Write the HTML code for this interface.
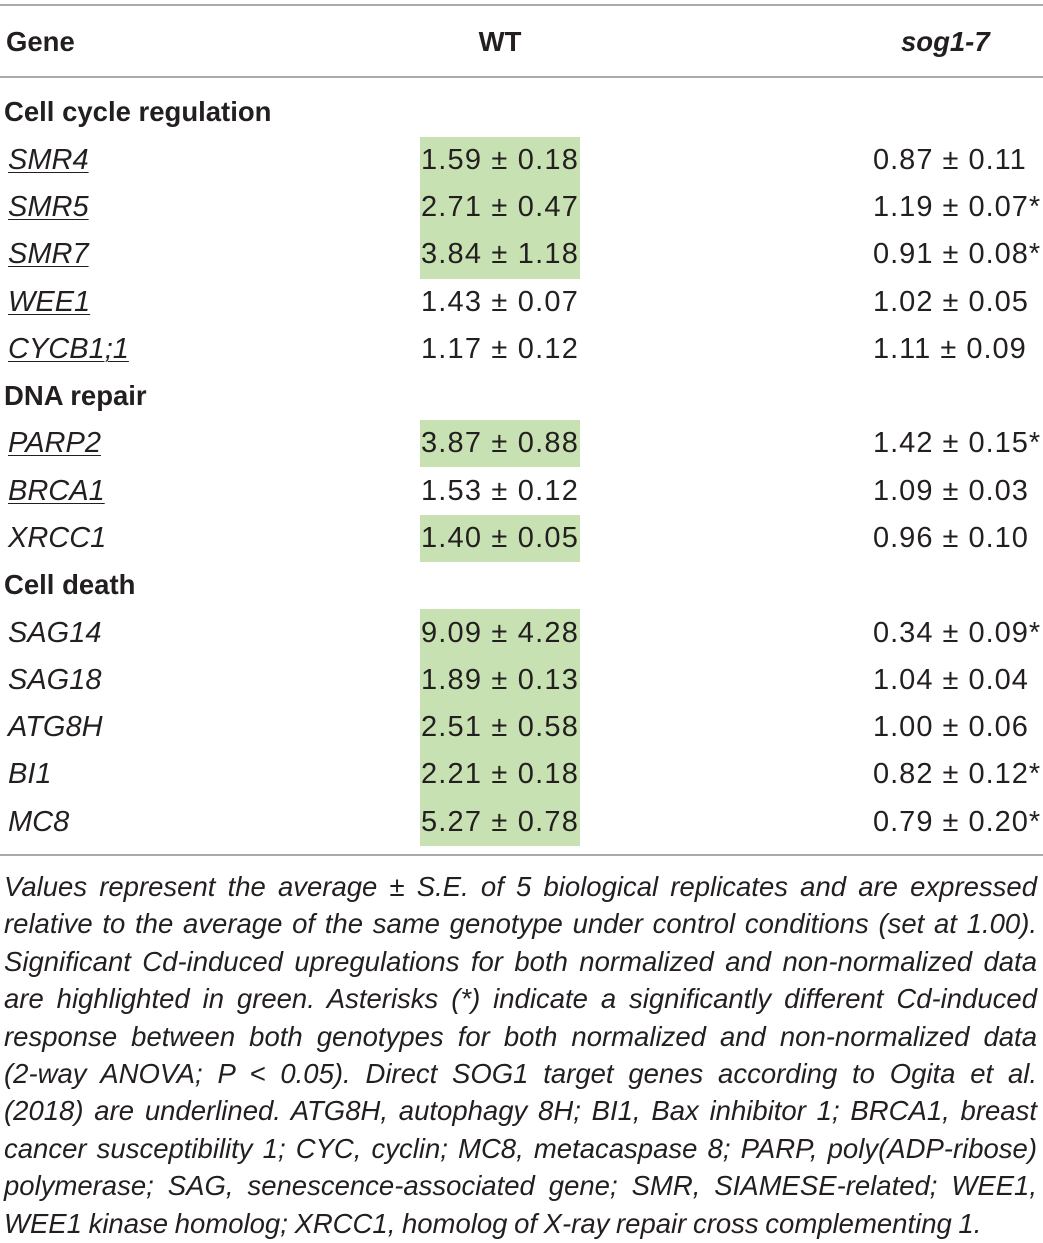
<!DOCTYPE html>
<html><head><meta charset="utf-8"><style>
body{margin:0;width:1043px;height:1243px;background:#fff;font-family:"Liberation Sans",Arial,sans-serif;color:#231f20;position:relative;overflow:hidden}
.hl{position:absolute;left:0;width:1043px;height:2px;background:#a7a9ac}
.t{position:absolute;font-size:29px;line-height:30px;white-space:nowrap}
.b{font-weight:bold;font-size:27.5px}
.i{font-style:italic}
.u{text-decoration:underline;text-underline-offset:3px;text-decoration-thickness:1px}
.g{position:absolute;left:420px;width:160px;background:#c7e1b2}
.wt{left:405px;width:190px;text-align:center;letter-spacing:1.2px}
.sg{left:873px;letter-spacing:1px}
.cap{position:absolute;left:4px;top:868px;width:1033px;font-size:27.5px;line-height:37.4px;font-style:italic;color:#231f20;word-spacing:-1px}
.cap div{text-align:justify;text-align-last:justify;white-space:nowrap;height:37.4px}
.cap div.last{text-align-last:left}
</style></head><body>
<div class="hl" style="top:4px"></div>
<div class="hl" style="top:76px"></div>
<div class="hl" style="top:854px"></div>

<div class="g" style="top:137px;height:142px"></div>
<div class="g" style="top:420px;height:47px"></div>
<div class="g" style="top:515px;height:47px"></div>
<div class="g" style="top:609px;height:237px"></div>

<div class="t b" style="left:6px;top:27px">Gene</div>
<div class="t b wt" style="top:27px;letter-spacing:0">WT</div>
<div class="t b i" style="left:901px;top:27px">sog1-7</div>

<div class="t b" style="left:4px;top:97px">Cell cycle regulation</div>
<div class="t i u" style="left:8px;top:145px">SMR4</div>
<div class="t wt" style="top:145px">1.59 ± 0.18</div>
<div class="t sg" style="top:145px">0.87 ± 0.11</div>
<div class="t i u" style="left:8px;top:192px">SMR5</div>
<div class="t wt" style="top:192px">2.71 ± 0.47</div>
<div class="t sg" style="top:192px">1.19 ± 0.07*</div>
<div class="t i u" style="left:8px;top:239px">SMR7</div>
<div class="t wt" style="top:239px">3.84 ± 1.18</div>
<div class="t sg" style="top:239px">0.91 ± 0.08*</div>
<div class="t i u" style="left:8px;top:287px">WEE1</div>
<div class="t wt" style="top:287px">1.43 ± 0.07</div>
<div class="t sg" style="top:287px">1.02 ± 0.05</div>
<div class="t i u" style="left:8px;top:334px">CYCB1;1</div>
<div class="t wt" style="top:334px">1.17 ± 0.12</div>
<div class="t sg" style="top:334px">1.11 ± 0.09</div>

<div class="t b" style="left:4px;top:381px">DNA repair</div>
<div class="t i u" style="left:8px;top:428px">PARP2</div>
<div class="t wt" style="top:428px">3.87 ± 0.88</div>
<div class="t sg" style="top:428px">1.42 ± 0.15*</div>
<div class="t i u" style="left:8px;top:476px">BRCA1</div>
<div class="t wt" style="top:476px">1.53 ± 0.12</div>
<div class="t sg" style="top:476px">1.09 ± 0.03</div>
<div class="t i" style="left:8px;top:523px">XRCC1</div>
<div class="t wt" style="top:523px">1.40 ± 0.05</div>
<div class="t sg" style="top:523px">0.96 ± 0.10</div>

<div class="t b" style="left:4px;top:570px">Cell death</div>
<div class="t i" style="left:8px;top:618px">SAG14</div>
<div class="t wt" style="top:618px">9.09 ± 4.28</div>
<div class="t sg" style="top:618px">0.34 ± 0.09*</div>
<div class="t i" style="left:8px;top:665px">SAG18</div>
<div class="t wt" style="top:665px">1.89 ± 0.13</div>
<div class="t sg" style="top:665px">1.04 ± 0.04</div>
<div class="t i" style="left:8px;top:712px">ATG8H</div>
<div class="t wt" style="top:712px">2.51 ± 0.58</div>
<div class="t sg" style="top:712px">1.00 ± 0.06</div>
<div class="t i" style="left:8px;top:759px">BI1</div>
<div class="t wt" style="top:759px">2.21 ± 0.18</div>
<div class="t sg" style="top:759px">0.82 ± 0.12*</div>
<div class="t i" style="left:8px;top:807px">MC8</div>
<div class="t wt" style="top:807px">5.27 ± 0.78</div>
<div class="t sg" style="top:807px">0.79 ± 0.20*</div>

<div class="cap">
<div>Values represent the average ± S.E. of 5 biological replicates and are expressed</div>
<div>relative to the average of the same genotype under control conditions (set at 1.00).</div>
<div>Significant Cd-induced upregulations for both normalized and non-normalized data</div>
<div>are highlighted in green. Asterisks (*) indicate a significantly different Cd-induced</div>
<div>response between both genotypes for both normalized and non-normalized data</div>
<div>(2-way ANOVA; P &lt; 0.05). Direct SOG1 target genes according to Ogita et al.</div>
<div>(2018) are underlined. ATG8H, autophagy 8H; BI1, Bax inhibitor 1; BRCA1, breast</div>
<div>cancer susceptibility 1; CYC, cyclin; MC8, metacaspase 8; PARP, poly(ADP-ribose)</div>
<div>polymerase; SAG, senescence-associated gene; SMR, SIAMESE-related; WEE1,</div>
<div class="last">WEE1 kinase homolog; XRCC1, homolog of X-ray repair cross complementing 1.</div>
</div>
</body></html>
